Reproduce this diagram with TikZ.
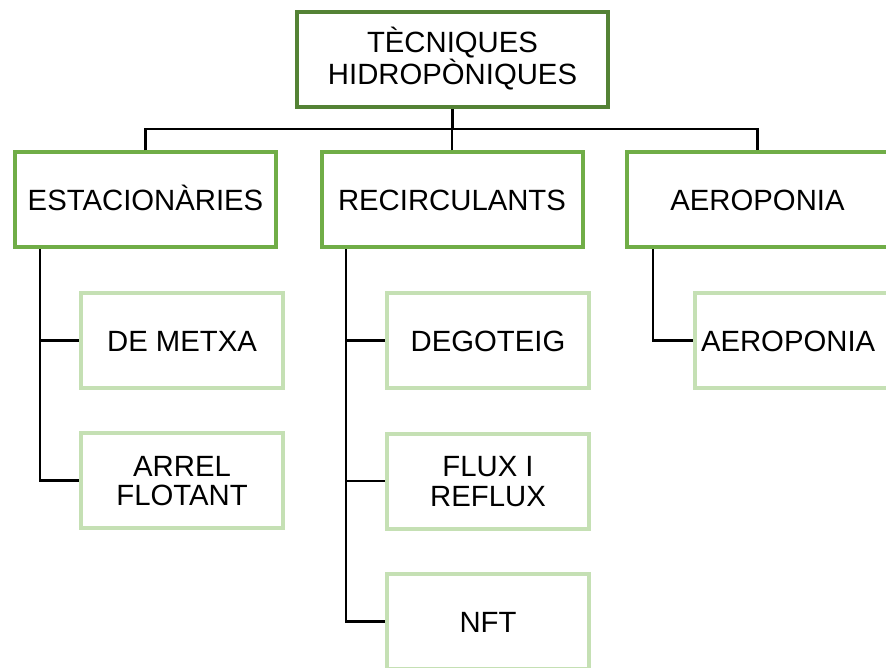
\documentclass[tikz,border=0pt]{standalone}
\usepackage{fontspec}
\setmainfont{Liberation Sans}
\definecolor{topgreen}{HTML}{548235}
\definecolor{midgreen}{HTML}{70AD47}
\definecolor{lightgreen}{HTML}{C5E0B4}
\begin{document}
\begin{tikzpicture}[x=1pt,y=-1pt,
  box/.style={draw, line width=4pt, fill=white, inner sep=0pt, align=center,
    font=\fontsize{29.3}{29.5}\selectfont, text height=21pt, text depth=0pt},
  twolines/.style={text height=50.5pt, text depth=0pt},
  rootbox/.style={box, draw=topgreen, minimum width=311pt, minimum height=95pt},
  groupbox/.style={box, draw=midgreen, minimum width=261pt, minimum height=95pt},
  leafbox/.style={box, draw=lightgreen, minimum width=202pt, minimum height=95pt},
  link/.style={draw=black, line width=2.9pt}]
\useasboundingbox (0,0) rectangle (886,668);
\clip (0,0) rectangle (886,668);
\fill[white] (0,0) rectangle (886,668);

\node[rootbox, twolines] (root) at (452.5,59.5) {TÈCNIQUES\\HIDROPÒNIQUES};

\node[groupbox] (est) at (145.5,200) {ESTACIONÀRIES};
\node[groupbox] (rec) at (452,200) {RECIRCULANTS};
\node[groupbox] (aer) at (757.5,200) {AEROPONIA};

\node[leafbox] (metxa) at (182,340.5) {DE METXA};
\node[leafbox, twolines] (arrel) at (182,480.5) {ARREL\\FLOTANT};
\node[leafbox] (dego) at (488,340.5) {DEGOTEIG};
\node[leafbox, twolines] (flux) at (488,481) {FLUX I\\REFLUX};
\node[leafbox] (nft) at (488,621.5) {NFT};
\node[leafbox, align=left, text width=190pt, inner xsep=6pt] (aer2) at (796,340.5) {AEROPONIA};

\coordinate (bar) at (0,129);
\coordinate (estspine) at (40,0);
\coordinate (recspine) at (346,0);
\coordinate (aerspine) at (653,0);

\draw[link] (root.south) -- (root.south |- bar);
\draw[link] (est.north) -- (est.north |- bar) -- (aer.north |- bar) -- (aer.north);
\draw[link] (rec.north) -- (rec.north |- bar);

\draw[link] (est.south -| estspine) |- (arrel.west);
\draw[link] (estspine |- metxa.west) -- (metxa.west);

\draw[link] (rec.south -| recspine) |- (nft.west);
\draw[link] (recspine |- dego.west) -- (dego.west);
\draw[link] (recspine |- flux.west) -- (flux.west);

\draw[link] (aer.south -| aerspine) |- (aer2.west);
\end{tikzpicture}
\end{document}
